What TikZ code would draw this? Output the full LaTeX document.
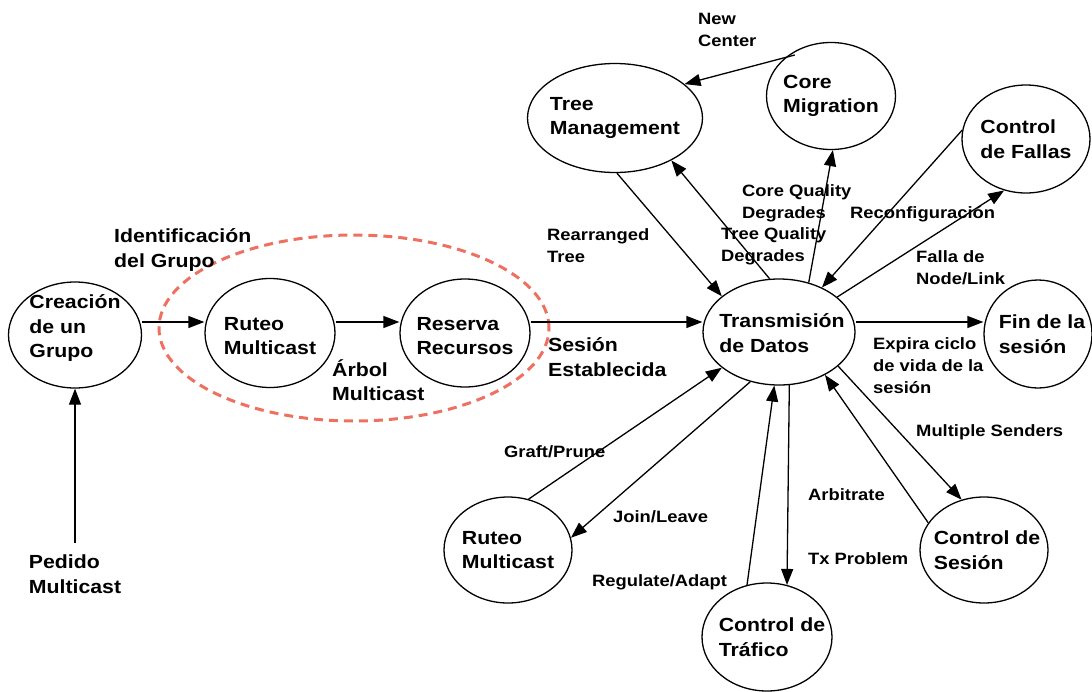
\documentclass[tikz,border=0pt]{standalone}
\usepackage{fontspec}
\setmainfont{Liberation Sans}[FakeStretch=1.12]
\usetikzlibrary{arrows.meta,shapes.geometric}
\definecolor{dashred}{RGB}{238,112,96}
\begin{document}
\begin{tikzpicture}[x=1pt,y=-1pt,
 st/.style={draw, line width=1.3pt, ellipse, inner sep=0pt},
 big/.style={font=\bfseries\fontsize{19}{24.5}\selectfont, align=left, inner sep=0pt},
 bigl/.style={big, anchor=west},
 sml/.style={font=\bfseries\fontsize{16.4}{22}\selectfont, align=left, inner sep=0pt, anchor=west},
 arr/.style={line width=1.3pt, -{Triangle[length=16pt,width=12pt]}},
 ]
\useasboundingbox (0,0) rectangle (1092,691);
\coordinate (row) at (0,322);

% group ellipse
\node[draw=dashred, dash pattern=on 9pt off 6pt, line width=3pt, ellipse, minimum width=390pt, minimum height=186pt] (grp) at (354,328) {};

% states
\node[st, minimum width=133pt, minimum height=106pt, label={[big,yshift=7pt]center:Creación\\de un\\Grupo}] (cre) at (75,335) {};
\node[st, minimum width=130pt, minimum height=109pt, label={[big,yshift=-3pt]center:Ruteo\\Multicast}] (rut) at (270,333) {};
\node[st, minimum width=130pt, minimum height=108pt, label={[big,yshift=-3pt]center:Reserva\\Recursos}] (res) at (465,333) {};
\node[st, minimum width=152pt, minimum height=106pt, label={[big,xshift=3pt,yshift=-1pt]center:Transmisión\\de Datos}] (T) at (779,332) {};
\node[st, minimum width=108pt, minimum height=108pt, label={[big,xshift=4pt]center:Fin de la\\sesión}] (fin) at (1038,334) {};
\node[st, minimum width=175pt, minimum height=109pt, label={[big]center:Tree\\Management}] (tm) at (615,118) {};
\node[st, minimum width=129pt, minimum height=107pt, label={[big]center:Core\\Migration}] (cm) at (831,96) {};
\node[st, minimum width=128pt, minimum height=108pt, label={[big]center:Control\\de Fallas}] (cf) at (1026,139) {};
\node[st, minimum width=128pt, minimum height=106pt, label={[big]center:Ruteo\\Multicast}] (rm) at (508,550) {};
\node[st, minimum width=130pt, minimum height=108pt, label={[big,xshift=5pt]center:Control de\\Tráfico}] (ct) at (767,637) {};
\node[st, minimum width=128pt, minimum height=106pt, label={[big,xshift=3pt]center:Control de\\Sesión}] (cs) at (984,550) {};

% source text
\node[big] (ped) at (75,574) {Pedido\\Multicast};

% labels
\node[bigl] (ident) at (114,250) {Identificación\\del Grupo};
\node[bigl] (arbol) at (332,380) {Árbol\\Multicast};
\node[bigl] (sesion) at (548,357) {Sesión\\Establecida};
\node[sml] (newc) at (698,30) {New\\Center};
\node[sml] (rearr) at (547,246) {Rearranged\\Tree};
\node[sml] (coreq) at (742,203) {Core Quality\\Degrades};
\node[sml] (treeq) at (721,246) {Tree Quality\\Degrades};
\node[sml] (reconf) at (850,214) {Reconfiguración};
\node[sml] (falla) at (916,268) {Falla de\\Node/Link};
\node[sml] (expira) at (873,366) {Expira ciclo\\de vida de la\\sesión};
\node[sml] (mult) at (916,432) {Multiple Senders};
\node[sml] (graft) at (504,452) {Graft/Prune};
\node[sml] (arbit) at (808,495) {Arbitrate};
\node[sml] (join) at (613,517) {Join/Leave};
\node[sml] (txp) at (808,559) {Tx Problem};
\node[sml] (regul) at (592,582) {Regulate/Adapt};

% connectors
\draw[arr] ([yshift=12pt]ped.north) -- (cre.south);
\draw[arr] (cre.east |- row) -- (rut.west |- row);
\draw[arr] (rut.east |- row) -- (res.west |- row);
\draw[arr] (res.east |- row) -- (T.west |- row);
\draw[arr] (T.east |- row) -- (fin.west |- row);
\draw[arr] (tm.272) -- (T.148);
\draw[arr] (T.100) -- (tm.323);
\draw[arr] (T.59) -- (cm.272);
\draw[arr] (cf.172) -- (T.46);
\draw[arr] (T.31) -- (cf.247);
\draw[arr, shorten <=-10pt] (cm.140) -- (tm.26);
\draw[arr] (rm.68) -- (T.212);
\draw[arr] (T.240) -- (rm.11);
\draw[arr] (ct.111) -- (T.265);
\draw[arr] (T.281.5) -- (ct.69);
\draw[arr] (cs.154) -- (T.317);
\draw[arr] (T.330) -- (cs.114);
\end{tikzpicture}
\end{document}
